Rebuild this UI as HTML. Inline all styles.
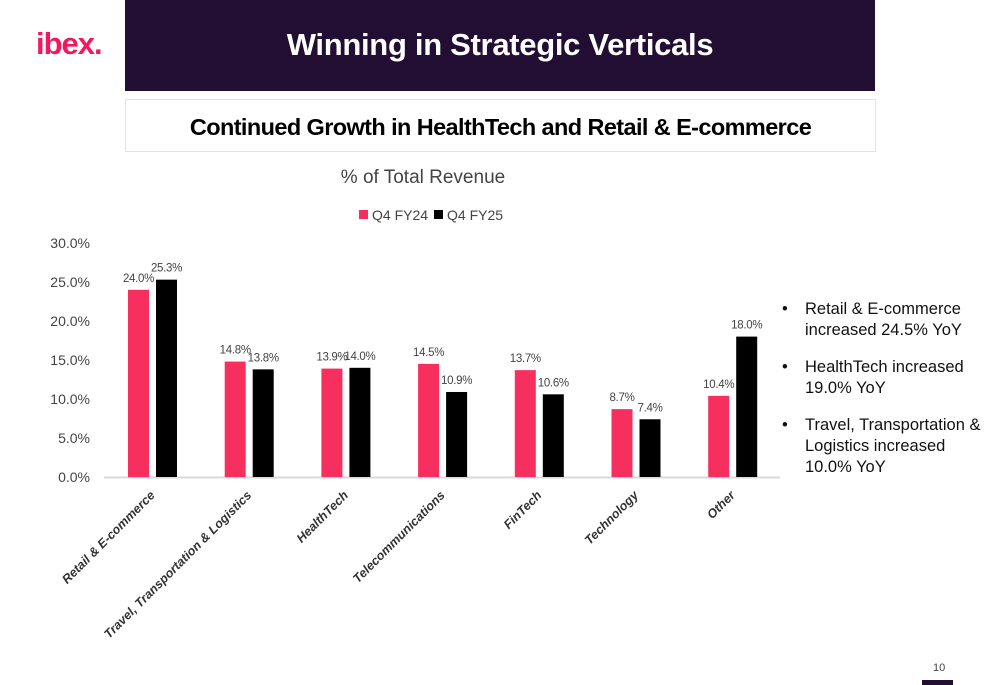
<!DOCTYPE html>
<html><head><meta charset="utf-8"><style>
body{margin:0;width:1000px;height:685px;background:#fff;font-family:"Liberation Sans",sans-serif;position:relative;overflow:hidden}
.abs{position:absolute}
</style></head><body>
<div class="abs" style="left:36px;top:26px;font-size:31px;font-weight:bold;color:#f5175d;letter-spacing:-1px">ibex.</div>
<div class="abs" style="left:125px;top:0;width:750px;height:91px;background:#220e33;color:#fff;font-size:31px;font-weight:bold;text-align:center;line-height:90px;letter-spacing:-0.3px">Winning in Strategic Verticals</div>
<div class="abs" style="left:125px;top:99px;width:749px;height:51px;border:1px solid #e4e4e4;font-size:23.5px;font-weight:bold;text-align:center;line-height:54px;letter-spacing:-0.6px">Continued Growth in HealthTech and Retail &amp; E-commerce</div>
<svg class="abs" style="left:0;top:0" width="1000" height="685">
<text x="423" y="183" text-anchor="middle" font-size="19" fill="#444">% of Total Revenue</text>
<g id="legend">
<rect x="359" y="210" width="9" height="9" fill="#f72f5f"/>
<text x="372" y="220" font-size="14" fill="#444">Q4 FY24</text>
<rect x="434" y="210" width="9" height="9" fill="#000"/>
<text x="447" y="220" font-size="14" fill="#444">Q4 FY25</text>
</g>
<g id="plot"></g>
</svg>
<div class="abs" style="left:782px;top:299px;width:205px;font-size:16.5px;color:#111;line-height:21px">
<div style="position:relative;padding-left:23px;margin-bottom:16px"><span style="position:absolute;left:0">•</span>Retail &amp; E-commerce increased 24.5% YoY</div>
<div style="position:relative;padding-left:23px;margin-bottom:16px"><span style="position:absolute;left:0">•</span>HealthTech increased 19.0% YoY</div>
<div style="position:relative;padding-left:23px"><span style="position:absolute;left:0">•</span>Travel, Transportation &amp; Logistics increased 10.0% YoY</div>
</div>
<div class="abs" style="left:933px;top:662px;font-size:11px;color:#444">10</div>
<div class="abs" style="left:922px;top:680px;width:31px;height:5px;background:#220e33"></div>
<script>
const categories=["Retail & E-commerce","Travel, Transportation & Logistics","HealthTech","Telecommunications","FinTech","Technology","Other"];
const fy24=[24.0,14.8,13.9,14.5,13.7,8.7,10.4];
const fy25=[25.3,13.8,14.0,10.9,10.6,7.4,18.0];
const yTicks=[0,5,10,15,20,25,30];
const NS="http://www.w3.org/2000/svg";
const g=document.getElementById('plot');
const y0=477,pxPer=7.8,x0=104,groupW=96.7;
const y=v=>y0-v*pxPer;
const cx=i=>x0+48.5+i*groupW;
function el(t,a){const e=document.createElementNS(NS,t);for(const k in a)e.setAttribute(k,a[k]);g.appendChild(e);return e;}
yTicks.forEach(t=>{const e=el('text',{x:90,y:y(t)+5,'text-anchor':'end','font-size':14,fill:'#444'});e.textContent=t.toFixed(1)+'%';

});
const ax=el('line',{x1:x0,x2:780,y1:y0+0.5,y2:y0+0.5,stroke:'#d9d9d9','stroke-width':2});


categories.forEach((c,i)=>{
 [[fy24,'#f72f5f',-24.5,'fy24'],[fy25,'#000',3.5,'fy25']].forEach(([s,col,off,nm])=>{
  const v=s[i];
  const r=el('rect',{x:cx(i)+off,y:y(v),width:21,height:v*pxPer,fill:col});
  
  
  const t=el('text',{x:cx(i)+off+10.5,y:y(v)-8,'text-anchor':'middle','font-size':11.5,fill:'#444','letter-spacing':'-0.3'});
  t.textContent=v.toFixed(1)+'%';
  
  
 });
 const lx=cx(i)+3,ly=y0+19;
 const L=el('text',{x:lx,y:ly,'text-anchor':'end','font-size':12.5,'font-weight':'bold','font-style':'italic',fill:'#333',transform:`rotate(-45 ${lx} ${ly})`});
 L.textContent=c;
 
 
});
</script>
</body></html>
